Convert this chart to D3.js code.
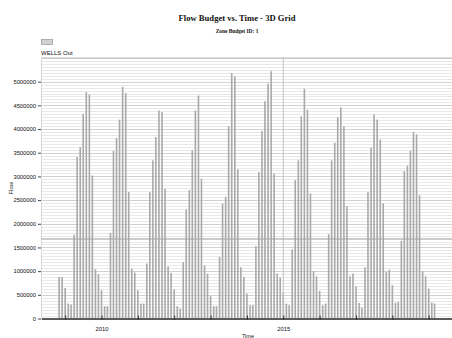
<!DOCTYPE html>
<html>
<head>
<meta charset="utf-8">
<script src="https://cdn.jsdelivr.net/npm/d3@7"></script>
<style>
  html, body { margin: 0; padding: 0; background: #fff; }
  svg { display: block; }
</style>
</head>
<body>
<svg id="chart" width="452" height="338"></svg>
<script>
// Monthly WELLS Out flow, zone budget 1 (first month: Nov 2008)
const startMonth = "2008-11-01";
const wellsOut = [
  878000, 878000,
  646000, 316000, 295000, 1770000, 3410000, 3620000, 4320000, 4780000, 4730000, 3020000, 1040000, 935000,
  597000, 260000, 260000, 1810000, 3540000, 3810000, 4200000, 4890000, 4760000, 2670000, 1050000, 970000,
  597000, 316000, 316000, 1160000, 2670000, 3340000, 3830000, 4390000, 4360000, 2740000, 1100000, 962000,
  612000, 260000, 211000, 1190000, 2300000, 2710000, 3550000, 4390000, 4710000, 2950000, 1120000, 949000,
  470000, 260000, 260000, 1300000, 2430000, 2570000, 4060000, 5180000, 5110000, 3150000, 1080000, 878000,
  527000, 281000, 281000, 1530000, 3090000, 3960000, 4590000, 4960000, 5220000, 3060000, 949000, 865000,
  561000, 316000, 281000, 1460000, 2920000, 3340000, 4270000, 4850000, 4410000, 2640000, 1000000, 892000,
  582000, 281000, 316000, 1780000, 3340000, 3710000, 4250000, 4460000, 4060000, 2370000, 892000, 949000,
  681000, 329000, 232000, 1080000, 2670000, 3610000, 4310000, 4200000, 3780000, 2430000, 984000, 1030000,
  703000, 329000, 351000, 1640000, 3110000, 3230000, 3540000, 3940000, 3890000, 2600000, 998000, 892000,
  633000, 337000, 316000
];

// Axis settings
const timeDomain = ["2008-05-03", "2019-08-23"];
const yMax = 5500000;
const yTicks = d3.range(0, 5000001, 500000);
const yearTicks = d3.range(2009, 2020);
const labeledYears = [2010, 2015];

// Cursor crosshair position
const cursorTime = "2015-01-01";
const cursorValue = 1680000;

const titleText = "Flow Budget vs. Time - 3D Grid";
const subtitleText = "Zone Budget ID: 1";
const seriesName = "WELLS Out";
const yTitle = "Flow";
const xTitle = "Time";

const parse = d3.utcParse("%Y-%m-%d");
const months = wellsOut.map((v, i) => ({ date: d3.utcMonth.offset(parse(startMonth), i), value: v }));

const svg = d3.select("#chart");
const plotLeft = 41, plotRight = 452, plotTop = 58, plotBottom = 318.5;

const x = d3.scaleUtc().domain(timeDomain.map(parse)).range([plotLeft, plotRight]);
const y = d3.scaleLinear().domain([0, yMax]).range([plotBottom, plotTop]);

// Background gridlines
const grid = svg.append("g");
grid.selectAll("line")
  .data(d3.range(0, yMax + 1, 62500))
  .join("line")
  .attr("x1", plotLeft).attr("x2", plotRight)
  .attr("y1", d => Math.round(y(d)) + 0.5).attr("y2", d => Math.round(y(d)) + 0.5)
  .attr("stroke", d => d % 500000 === 0 ? "#d2d2d2" : "#e8e8e8")
  .attr("stroke-width", 1);

// Plot frame
svg.append("line").attr("x1", plotLeft).attr("x2", plotRight).attr("y1", plotTop).attr("y2", plotTop)
  .attr("stroke", "#bdbdbd").attr("stroke-width", 1);
svg.append("line").attr("x1", plotLeft + 0.5).attr("x2", plotLeft + 0.5).attr("y1", plotTop).attr("y2", plotBottom)
  .attr("stroke", "#d8d8d8").attr("stroke-width", 1);

// Bars
svg.append("g").selectAll("rect")
  .data(months)
  .join("rect")
  .attr("x", d => x(d.date) - 0.8)
  .attr("width", 1.6)
  .attr("y", d => y(d.value))
  .attr("height", d => y(0) - y(d.value))
  .attr("fill", "#a9a9a9");

// Crosshair
svg.append("line")
  .attr("x1", x(parse(cursorTime))).attr("x2", x(parse(cursorTime)))
  .attr("y1", plotTop).attr("y2", plotBottom)
  .attr("stroke", "#c4c4c4").attr("stroke-width", 1);
svg.append("line")
  .attr("x1", plotLeft).attr("x2", plotRight)
  .attr("y1", y(cursorValue)).attr("y2", y(cursorValue))
  .attr("stroke", "#a6a6a6").attr("stroke-width", 1);

// Y axis
const yAxis = svg.append("g")
  .attr("transform", `translate(${plotLeft},0)`)
  .call(d3.axisLeft(y).tickValues(yTicks).tickSize(3).tickPadding(2).tickFormat(d3.format("d")));
yAxis.select(".domain").remove();
yAxis.selectAll(".tick line").attr("stroke", "#444");
yAxis.selectAll(".tick text")
  .attr("font-family", "Liberation Sans, Arial, sans-serif")
  .attr("font-size", 5.8).attr("fill", "#111");

// X axis
const xAxis = svg.append("g")
  .attr("transform", `translate(0,${plotBottom})`)
  .call(d3.axisBottom(x)
    .tickValues(yearTicks.map(yr => new Date(Date.UTC(yr, 0, 1))))
    .tickSize(-3)
    .tickFormat(d => labeledYears.includes(d.getUTCFullYear()) ? String(d.getUTCFullYear()) : ""));
xAxis.select(".domain").attr("stroke", "#5a5a5a").attr("stroke-width", 2)
  .attr("d", `M${plotLeft + 1},0.5H${plotRight}`);
xAxis.selectAll(".tick line").attr("stroke", "#333").attr("y1", 1.5);
xAxis.selectAll(".tick text")
  .attr("y", 8).attr("dy", "0.71em")
  .attr("font-family", "Liberation Sans, Arial, sans-serif")
  .attr("font-size", 5.8).attr("fill", "#111");

// Titles
svg.append("text").attr("x", 237).attr("y", 20.5).attr("text-anchor", "middle")
  .attr("font-family", "Liberation Serif, Times New Roman, serif")
  .attr("font-weight", "bold").attr("font-size", 8.6).attr("fill", "#111")
  .text(titleText);
svg.append("text").attr("x", 237).attr("y", 32.5).attr("text-anchor", "middle")
  .attr("font-family", "Liberation Serif, Times New Roman, serif")
  .attr("font-weight", "bold").attr("font-size", 5.4).attr("fill", "#111")
  .text(subtitleText);

// Legend
svg.append("rect").attr("x", 41.5).attr("y", 39.5).attr("width", 11).attr("height", 5)
  .attr("fill", "#d2d2d2").attr("stroke", "#a0a0a0").attr("stroke-width", 0.8);
svg.append("text").attr("x", 41).attr("y", 54.5)
  .attr("font-family", "Liberation Sans, Arial, sans-serif")
  .attr("font-size", 6).attr("fill", "#111")
  .text(seriesName);

// Axis titles
svg.append("text")
  .attr("transform", `translate(13,${(plotTop + plotBottom) / 2}) rotate(-90)`)
  .attr("text-anchor", "middle")
  .attr("font-family", "Liberation Sans, Arial, sans-serif")
  .attr("font-size", 6).attr("fill", "#222")
  .text(yTitle);
svg.append("text").attr("x", 248).attr("y", 337.5).attr("text-anchor", "middle")
  .attr("font-family", "Liberation Sans, Arial, sans-serif")
  .attr("font-size", 5.6).attr("fill", "#222")
  .text(xTitle);
</script>
</body>
</html>
